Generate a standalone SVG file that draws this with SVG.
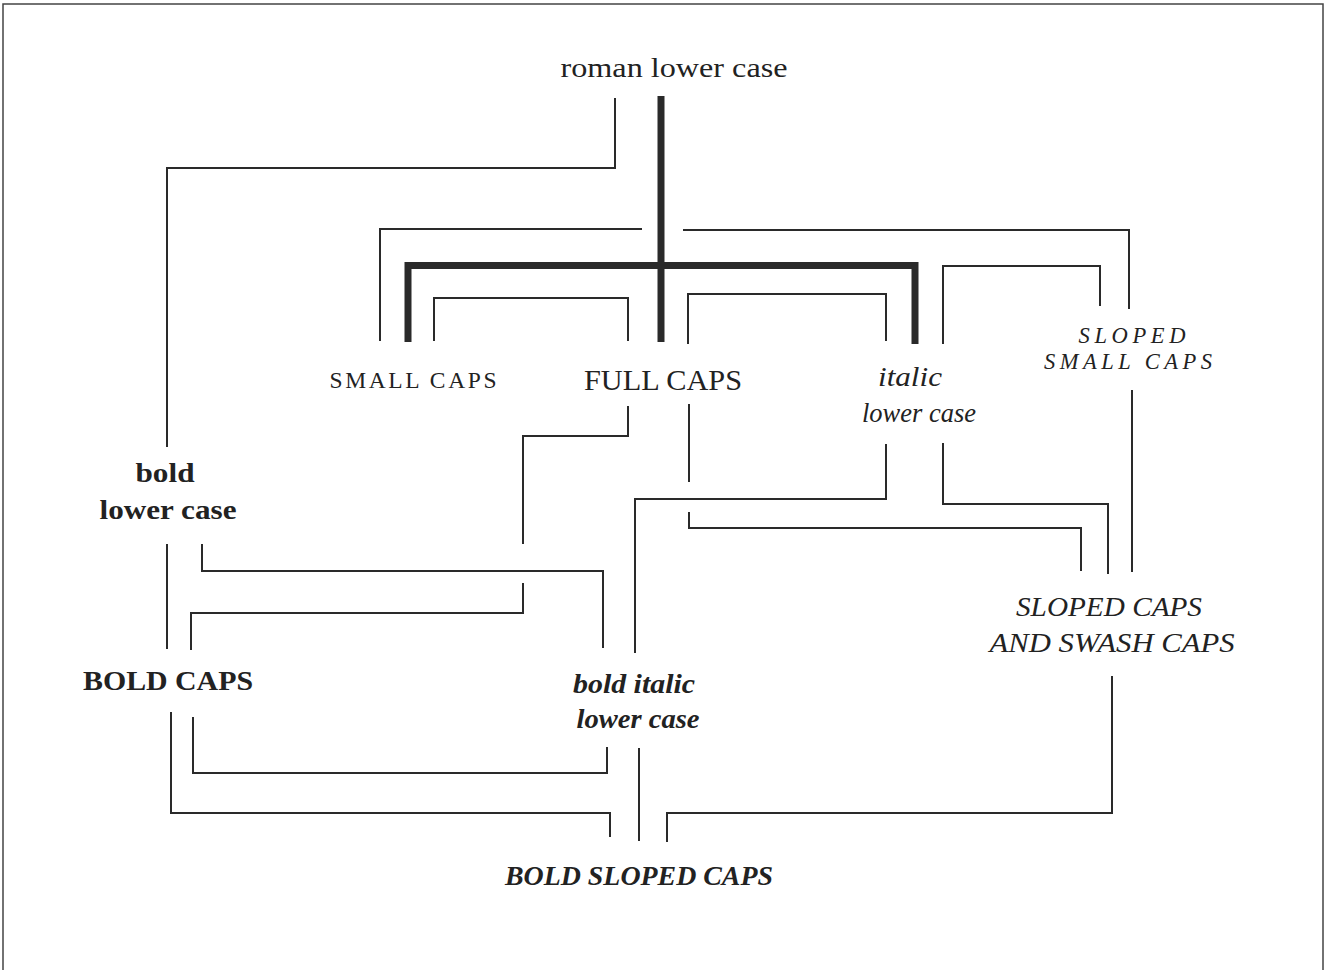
<svg xmlns="http://www.w3.org/2000/svg" width="1327" height="970" viewBox="0 0 1327 970">
<style>
.t{font-family:"Liberation Serif","DejaVu Serif",serif;fill:#222;text-anchor:middle}
.i{font-style:italic}
.b{font-weight:bold}
.ln{fill:none;stroke:#2a2a2a;stroke-width:2;stroke-linecap:butt;stroke-linejoin:miter}
.th{fill:none;stroke:#2a2a2a;stroke-width:7;stroke-linecap:butt;stroke-linejoin:miter}
</style>
<rect width="1327" height="970" fill="#fff"/>
<path d="M3,970 V4 H1323 V970" fill="none" stroke="#444" stroke-width="1.5"/>
<g id="connectors">
<path class="th" d="M661,96 V342"/>
<path class="th" d="M408,342 V265.5 H915 V344"/>
<path class="ln" d="M615,98 V168 H167 V447"/>
<path class="ln" d="M642,229 H380 V341"/>
<path class="ln" d="M683,230 H1129 V309"/>
<path class="ln" d="M434,341 V298 H628 V341"/>
<path class="ln" d="M688,344 V294 H886 V341"/>
<path class="ln" d="M943,344 V266 H1100 V306"/>
<path class="ln" d="M167,544 V649"/>
<path class="ln" d="M202,544 V571 H603 V648"/>
<path class="ln" d="M628,406 V436 H523 V544"/>
<path class="ln" d="M523,583 V613 H191 V650"/>
<path class="ln" d="M689,404 V482"/>
<path class="ln" d="M689,512 V528 H1081 V571"/>
<path class="ln" d="M886,444 V499 H635 V653"/>
<path class="ln" d="M943,443 V504 H1108 V574"/>
<path class="ln" d="M1132,390 V572"/>
<path class="ln" d="M171,712 V813 H610 V837"/>
<path class="ln" d="M193,717 V773 H607 V747"/>
<path class="ln" d="M639,748 V841"/>
<path class="ln" d="M1112,676 V813 H667 V842"/>
</g>
<g id="roman-lower-case"><text class="t" x="674" y="77" font-size="27" textLength="227" lengthAdjust="spacingAndGlyphs">roman lower case</text></g>
<g id="small-caps"><text class="t" x="413" y="388" font-size="23.5" textLength="167" lengthAdjust="spacing">SMALL CAPS</text></g>
<g id="full-caps"><text class="t" x="663" y="390" font-size="30" textLength="158" lengthAdjust="spacingAndGlyphs">FULL CAPS</text></g>
<g id="italic-lower-case">
<text class="t i" x="910" y="386" font-size="27" textLength="64" lengthAdjust="spacingAndGlyphs">italic</text>
<text class="t i" x="919" y="422" font-size="27" textLength="114" lengthAdjust="spacingAndGlyphs">lower case</text>
</g>
<g id="sloped-small-caps">
<text class="t i" x="1132" y="343" font-size="22.5" textLength="107" lengthAdjust="spacing">SLOPED</text>
<text class="t i" x="1128" y="369" font-size="22.5" textLength="168" lengthAdjust="spacing">SMALL CAPS</text>
</g>
<g id="bold-lower-case">
<text class="t b" x="165" y="482" font-size="27" textLength="59" lengthAdjust="spacingAndGlyphs">bold</text>
<text class="t b" x="168" y="519" font-size="27" textLength="137" lengthAdjust="spacingAndGlyphs">lower case</text>
</g>
<g id="bold-caps"><text class="t b" x="168" y="690" font-size="28" textLength="170" lengthAdjust="spacingAndGlyphs">BOLD CAPS</text></g>
<g id="bold-italic-lower-case">
<text class="t b i" x="634" y="693" font-size="27" textLength="122" lengthAdjust="spacingAndGlyphs">bold italic</text>
<text class="t b i" x="638" y="728" font-size="27" textLength="123" lengthAdjust="spacingAndGlyphs">lower case</text>
</g>
<g id="sloped-caps-and-swash-caps">
<text class="t i" x="1109" y="616" font-size="28" textLength="186" lengthAdjust="spacingAndGlyphs">SLOPED CAPS</text>
<text class="t i" x="1112" y="652" font-size="28" textLength="245" lengthAdjust="spacingAndGlyphs">AND SWASH CAPS</text>
</g>
<g id="bold-sloped-caps"><text class="t b i" x="639" y="885" font-size="27" textLength="268" lengthAdjust="spacingAndGlyphs">BOLD SLOPED CAPS</text></g>
</svg>
